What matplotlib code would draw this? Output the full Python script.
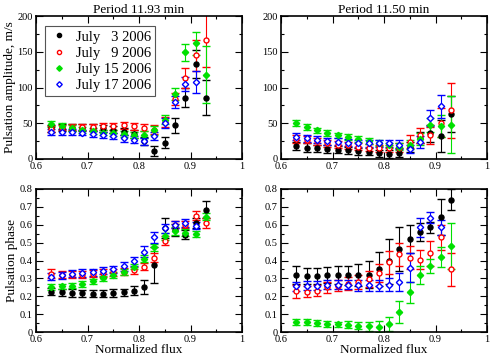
import numpy as np
import matplotlib
matplotlib.use("Agg")
import matplotlib.pyplot as plt
from matplotlib.lines import Line2D
from matplotlib.ticker import MultipleLocator, FormatStrFormatter

plt.rcParams['font.family'] = ['Liberation Serif', 'DejaVu Serif']

# normalized flux bins
flux = [0.63, 0.65, 0.67, 0.69, 0.71, 0.73, 0.75, 0.77, 0.79, 0.81, 0.83, 0.85, 0.87, 0.89, 0.91, 0.93]
flux15 = flux[:15]

labels = ["July   3 2006", "July   9 2006", "July 15 2006", "July 17 2006"]

# Period 11.93 min, amplitude (m/s)
amp1_jul3 = [43, 44, 44, 44, 44, 43, 41, 38, 35, 25, 11, 23, 47, 86, 133, 86]
amp1_jul3_err = [5, 5, 5, 5, 5, 5, 5, 5, 5, 6, 7, 8, 10, 13, 20, 25]
amp1_jul9 = [42, 44, 45, 45, 45, 46, 46, 47, 46, 44, 41, 52, 84, 113, 145, 167]
amp1_jul9_err = [4, 4, 4, 4, 4, 5, 5, 5, 5, 5, 6, 7, 8, 14, 22, 38]
amp1_jul15 = [49, 46, 43, 41, 39, 37, 36, 35, 34, 34, 40, 55, 91, 149, 162, 118]
amp1_jul15_err = [4, 4, 4, 4, 4, 4, 4, 4, 4, 5, 6, 6, 8, 12, 16, 40]
amp1_jul17 = [38, 38, 38, 37, 35, 34, 32, 29, 27, 25, 32, 51, 80, 105, 108]
amp1_jul17_err = [4, 4, 4, 4, 4, 4, 4, 5, 5, 5, 6, 7, 8, 10, 15]

# Period 11.50 min, amplitude (m/s)
amp2_jul3 = [18, 16, 15, 14, 13, 12, 11, 10, 8, 7, 9, 17, 30, 36, 32, 63]
amp2_jul3_err = [6, 6, 5, 5, 5, 5, 5, 5, 5, 5, 6, 7, 8, 12, 22, 25]
amp2_jul9 = [28, 27, 25, 22, 20, 19, 17, 16, 15, 15, 16, 24, 33, 33, 51, 68]
amp2_jul9_err = [5, 5, 5, 5, 5, 5, 5, 5, 5, 5, 6, 9, 10, 12, 20, 38]
amp2_jul15 = [50, 45, 40, 36, 33, 31, 28, 25, 22, 19, 17, 20, 28, 48, 46, 48]
amp2_jul15_err = [4, 4, 4, 4, 4, 4, 4, 4, 4, 4, 5, 6, 8, 10, 15, 40]
amp2_jul17 = [31, 29, 27, 25, 24, 23, 22, 22, 22, 22, 20, 14, 24, 57, 74]
amp2_jul17_err = [5, 5, 5, 5, 5, 5, 5, 5, 5, 5, 6, 6, 8, 11, 16]

# Period 11.93 min, phase
ph1_jul3 = [0.225, 0.222, 0.218, 0.216, 0.215, 0.215, 0.218, 0.222, 0.232, 0.25, 0.375, 0.58, 0.57, 0.545, 0.61, 0.685]
ph1_jul3_err = [0.02, 0.02, 0.02, 0.02, 0.02, 0.02, 0.02, 0.02, 0.025, 0.04, 0.1, 0.055, 0.035, 0.025, 0.03, 0.05]
ph1_jul9 = [0.325, 0.32, 0.32, 0.32, 0.325, 0.33, 0.335, 0.338, 0.345, 0.365, 0.415, 0.51, 0.6, 0.6, 0.65, 0.61]
ph1_jul9_err = [0.025, 0.02, 0.02, 0.02, 0.02, 0.02, 0.02, 0.02, 0.02, 0.02, 0.025, 0.025, 0.02, 0.02, 0.025, 0.03]
ph1_jul15 = [0.252, 0.255, 0.26, 0.268, 0.283, 0.3, 0.318, 0.335, 0.365, 0.41, 0.475, 0.535, 0.565, 0.555, 0.548, 0.645]
ph1_jul15_err = [0.015, 0.015, 0.015, 0.015, 0.015, 0.015, 0.015, 0.015, 0.015, 0.02, 0.02, 0.02, 0.02, 0.02, 0.015, 0.02]
ph1_jul17 = [0.31, 0.318, 0.325, 0.33, 0.335, 0.342, 0.35, 0.367, 0.395, 0.45, 0.53, 0.58, 0.6, 0.61, 0.595]
ph1_jul17_err = [0.02, 0.02, 0.02, 0.02, 0.02, 0.02, 0.02, 0.025, 0.025, 0.03, 0.03, 0.025, 0.02, 0.02, 0.02]

# Period 11.50 min, phase
ph2_jul3 = [0.32, 0.315, 0.315, 0.318, 0.318, 0.317, 0.318, 0.32, 0.35, 0.395, 0.465, 0.52, 0.56, 0.585, 0.645, 0.74]
ph2_jul3_err = [0.05, 0.045, 0.045, 0.045, 0.05, 0.055, 0.06, 0.075, 0.095, 0.125, 0.125, 0.08, 0.05, 0.03, 0.1, 0.06]
ph2_jul9 = [0.228, 0.225, 0.232, 0.25, 0.26, 0.27, 0.28, 0.295, 0.33, 0.39, 0.435, 0.415, 0.405, 0.44, 0.53, 0.35]
ph2_jul9_err = [0.035, 0.03, 0.03, 0.03, 0.03, 0.035, 0.04, 0.045, 0.05, 0.065, 0.065, 0.065, 0.055, 0.07, 0.07, 0.09]
ph2_jul15 = [0.055, 0.055, 0.05, 0.045, 0.042, 0.04, 0.035, 0.032, 0.03, 0.045, 0.113, 0.222, 0.32, 0.368, 0.418, 0.48]
ph2_jul15_err = [0.015, 0.015, 0.015, 0.015, 0.015, 0.02, 0.02, 0.025, 0.03, 0.04, 0.06, 0.06, 0.05, 0.04, 0.055, 0.13]
ph2_jul17 = [0.255, 0.258, 0.26, 0.265, 0.265, 0.265, 0.262, 0.262, 0.26, 0.265, 0.28, 0.36, 0.585, 0.64, 0.585]
ph2_jul17_err = [0.025, 0.025, 0.025, 0.025, 0.025, 0.025, 0.03, 0.03, 0.03, 0.035, 0.05, 0.08, 0.055, 0.03, 0.04]

styles = [
    dict(color='black', marker='o', mfc='black'),
    dict(color='red', marker='o', mfc='white'),
    dict(color='#00e000', marker='D', mfc='#00e000'),
    dict(color='blue', marker='D', mfc='white'),
]

panels = [
    [(amp1_jul3, amp1_jul3_err), (amp1_jul9, amp1_jul9_err), (amp1_jul15, amp1_jul15_err), (amp1_jul17, amp1_jul17_err)],
    [(amp2_jul3, amp2_jul3_err), (amp2_jul9, amp2_jul9_err), (amp2_jul15, amp2_jul15_err), (amp2_jul17, amp2_jul17_err)],
    [(ph1_jul3, ph1_jul3_err), (ph1_jul9, ph1_jul9_err), (ph1_jul15, ph1_jul15_err), (ph1_jul17, ph1_jul17_err)],
    [(ph2_jul3, ph2_jul3_err), (ph2_jul9, ph2_jul9_err), (ph2_jul15, ph2_jul15_err), (ph2_jul17, ph2_jul17_err)],
]

fig = plt.figure(figsize=(4.91, 3.57), dpi=100)
W, H = 491.0, 357.0
boxes = [(36, 16, 242, 159), (281, 16, 487, 159), (36, 189, 242, 332), (281, 189, 487, 332)]
axes = []
for (x0, y0, x1, y1) in boxes:
    axes.append(fig.add_axes([x0 / W, 1 - y1 / H, (x1 - x0) / W, (y1 - y0) / H]))

for i, ax in enumerate(axes):
    for j, (vals, errs) in enumerate(panels[i]):
        xs = flux if len(vals) == 16 else flux15
        st = styles[j]
        ms = 3.6 if st['marker'] == 'o' else 3.2
        ax.errorbar(xs, vals, yerr=errs, fmt=st['marker'], color=st['color'], mfc=st['mfc'],
                    mec=st['color'], ms=ms, mew=1.0, elinewidth=0.8, capsize=3, capthick=0.8)
    ax.set_xlim(0.6, 1.0)
    ax.xaxis.set_major_locator(MultipleLocator(0.1))
    ax.xaxis.set_minor_locator(MultipleLocator(0.05))
    ax.xaxis.set_major_formatter(FormatStrFormatter('%g'))
    if i < 2:
        ax.set_ylim(0, 200)
        ax.yaxis.set_major_locator(MultipleLocator(50))
        ax.yaxis.set_minor_locator(MultipleLocator(25))
    else:
        ax.set_ylim(0, 0.8)
        ax.yaxis.set_major_locator(MultipleLocator(0.1))
        ax.yaxis.set_minor_locator(MultipleLocator(0.05))
        ax.set_xlabel("Normalized flux", fontsize=9.5, labelpad=0)
    ax.yaxis.set_major_formatter(FormatStrFormatter('%g'))
    ax.tick_params(which='both', direction='in', top=True, right=True, labelsize=7.5, pad=2.5)
    ax.tick_params(which='major', length=5, width=0.8)
    ax.tick_params(which='minor', length=2.5, width=0.8)
    for s in ax.spines.values():
        s.set_linewidth(1.2)

axes[0].set_title("Period 11.93 min", fontsize=9.5, pad=2)
axes[1].set_title("Period 11.50 min", fontsize=9.5, pad=2)
axes[0].set_ylabel("Pulsation amplitude, m/s", fontsize=9.5, labelpad=1)
axes[2].set_ylabel("Pulsation phase", fontsize=9.5, labelpad=1)

handles = [Line2D([], [], ls='none', marker=st['marker'], color=st['color'], mfc=st['mfc'],
                  mec=st['color'], ms=(3 if st['marker'] == 'o' else 2.8), mew=1.0) for st in styles]
leg = axes[0].legend(handles, labels, loc='upper left', bbox_to_anchor=(0.044, 0.93), fontsize=10.5,
                     frameon=True, fancybox=False, edgecolor='#555555', framealpha=1,
                     handletextpad=0.5, borderpad=0.3, borderaxespad=0, labelspacing=0.2,
                     handlelength=1.3)
leg.get_frame().set_linewidth(0.8)

fig.savefig("out.png", dpi=100)
